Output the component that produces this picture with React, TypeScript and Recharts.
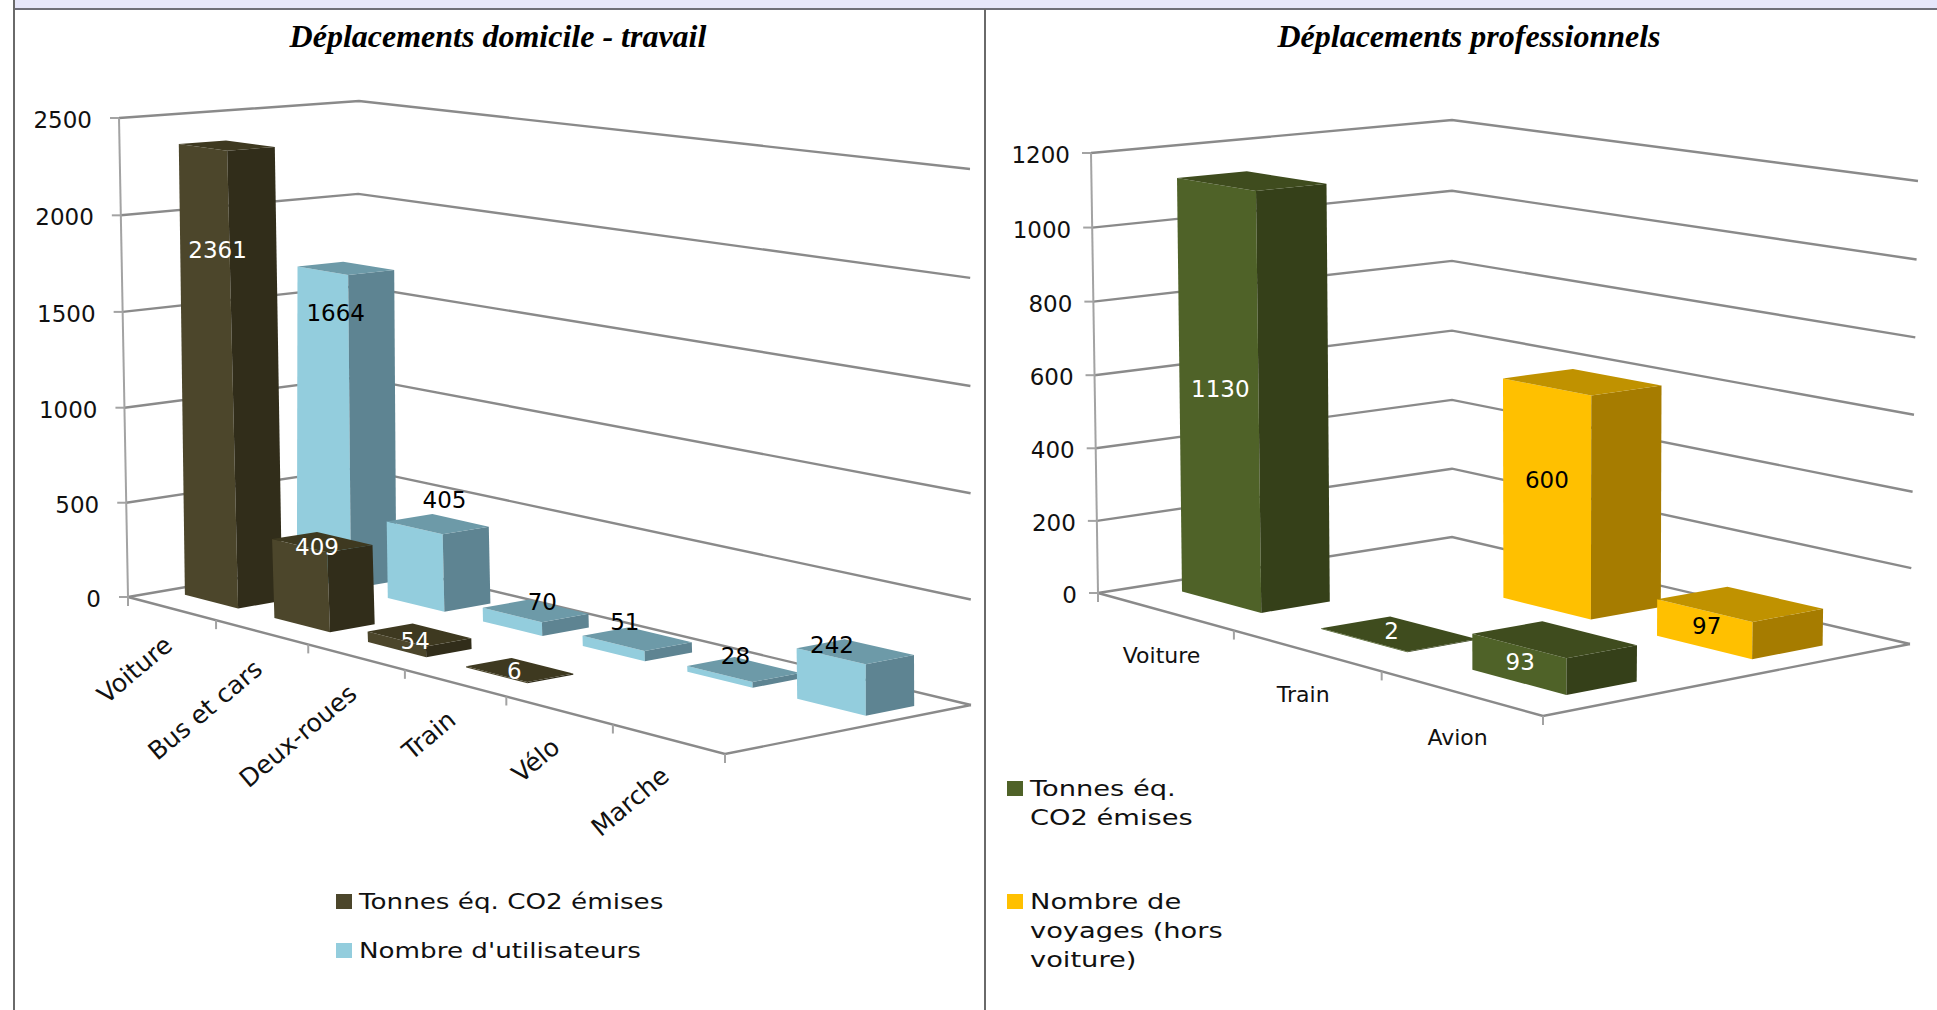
import React from 'react';
import { BarChart, Bar, XAxis, YAxis, CartesianGrid, Legend } from 'recharts';

const homeCategories = ['Voiture', 'Bus et cars', 'Deux-roues', 'Train', 'Vélo', 'Marche'];
const homeTonnes = [2361, 409, 54, 6, null, null];
const homeUsers = [1664, 405, 70, 51, 28, 242];
const homeTicks = [0, 500, 1000, 1500, 2000, 2500];

const tripCategories = ['Voiture', 'Train', 'Avion'];
const tripTonnes = [1130, 2, 93];
const tripVoyages = [null, 600, 97];
const tripTicks = [0, 200, 400, 600, 800, 1000, 1200];

const LABEL_FONT = '"DejaVu Sans", sans-serif';
const GRID_COLOR = '#8a8a8a';
const AXIS_COLOR = '#a3a3a3';
const MARGIN = 40;
const CHART_HEIGHT = 1010;

type Pt = [number, number];
type Quad = [Pt, Pt, Pt, Pt]; // front-left, front-right, back-right, back-left

// unit square -> quad, Heckbert's closed form
const quadMap = ([p0, p1, p2, p3]: Quad) => {
  const dx1 = p1[0] - p2[0];
  const dx2 = p3[0] - p2[0];
  const dy1 = p1[1] - p2[1];
  const dy2 = p3[1] - p2[1];
  const sx = p0[0] - p1[0] + p2[0] - p3[0];
  const sy = p0[1] - p1[1] + p2[1] - p3[1];
  const den = dx1 * dy2 - dx2 * dy1;
  const g = (sx * dy2 - dx2 * sy) / den;
  const h = (dx1 * sy - sx * dy1) / den;
  const a = p1[0] - p0[0] + g * p1[0];
  const b = p3[0] - p0[0] + h * p3[0];
  const d = p1[1] - p0[1] + g * p1[1];
  const e = p3[1] - p0[1] + h * p3[1];
  return (u: number, v: number): Pt => {
    const q = g * u + h * v + 1;
    return [(a * u + b * v + p0[0]) / q, (d * u + e * v + p0[1]) / q];
  };
};

// floor and ceiling of the box, heights eased a little because upper steps look larger
const makeProjection = (floor: Quad, ceiling: Quad, originX: number) => {
  const f = quadMap(floor);
  const c = quadMap(ceiling);
  return (u: number, v: number, w: number): Pt => {
    const a = f(u, v);
    const b = c(u, v);
    const t = w + 0.02 * w * (w - 1);
    return [a[0] + (b[0] - a[0]) * t - originX, a[1] + (b[1] - a[1]) * t];
  };
};

const pts = (list: Pt[]) => list.map((p) => `${p[0].toFixed(1)},${p[1].toFixed(1)}`).join(' ');

interface Series {
  dataKey: string;
  name: string;
  values: (number | null)[];
  fill: string;
  top: string;
  side: string;
  textFill: string;
  depth: [number, number];
  nudge: Pt[];
}

interface Chart3DProps {
  left: number;
  width: number;
  categories: string[];
  yTicks: number[];
  yMax: number;
  floor: Quad;
  ceiling: Quad;
  back: Series;
  front: Series;
  barShare: number;
  tickAngle: number;
  tickOffset: Pt;
  tickFont: number;
  yLabelGap: number;
  legendStyle: React.CSSProperties;
  legendGap: number;
  legendStretch: number;
  legendTextWidth: number;
}

const Chart3D = (props: Chart3DProps) => {
  const { left, width, categories, yTicks, yMax, floor, ceiling, back, front } = props;
  const plotW = width - MARGIN * 2;
  const plotH = CHART_HEIGHT - MARGIN * 2;
  const bottom = MARGIN + plotH;
  const project = makeProjection(floor, ceiling, left);
  const rows = categories.map((category, i) => ({
    category,
    [back.dataKey]: back.values[i],
    [front.dataKey]: front.values[i],
  }));
  const barSize = (plotW / categories.length) * props.barShare;

  const gridLine = (line: any) => {
    const w = (bottom - line.y1) / plotH;
    return (
      <polyline
        key={`grid-${line.y1}`}
        points={pts([project(0, 0, w), project(0, 1, w), project(1, 1, w)])}
        fill="none"
        stroke={GRID_COLOR}
        strokeWidth={2.4}
      />
    );
  };

  const yTick = ({ y, payload }: any) => {
    const w = (bottom - y) / plotH;
    const p = project(0, 0, w);
    return (
      <g>
        {payload.value === 0 && (
          <polyline points={pts([project(0, 0, 0), project(0, 0, 1)])} fill="none" stroke={AXIS_COLOR} strokeWidth={2} />
        )}
        <line x1={p[0] - 9} y1={p[1]} x2={p[0]} y2={p[1]} stroke={AXIS_COLOR} strokeWidth={2} />
        <text
          x={p[0] - props.yLabelGap}
          y={p[1] + 2}
          textAnchor="end"
          dominantBaseline="central"
          fontFamily={LABEL_FONT}
          fontSize={23}
          fill="#111"
        >
          {payload.value}
        </text>
      </g>
    );
  };

  const xTick = ({ x, payload, index }: any) => {
    const n = categories.length;
    const center = project((x - MARGIN) / plotW, 0, 0);
    const edge = project((index + 1) / n, 0, 0);
    const lx = center[0] + props.tickOffset[0];
    const ly = center[1] + props.tickOffset[1];
    const start = project(0, 0, 0);
    return (
      <g>
        {index === 0 && (
          <>
            <polyline
              points={pts([start, project(1, 0, 0), project(1, 1, 0)])}
              fill="none"
              stroke={GRID_COLOR}
              strokeWidth={2.4}
            />
            <line x1={start[0]} y1={start[1]} x2={start[0]} y2={start[1] + 9} stroke={AXIS_COLOR} strokeWidth={2} />
          </>
        )}
        <line x1={edge[0]} y1={edge[1]} x2={edge[0]} y2={edge[1] + 9} stroke={AXIS_COLOR} strokeWidth={2} />
        <text
          x={lx}
          y={ly}
          textAnchor={props.tickAngle ? 'end' : 'middle'}
          dominantBaseline="central"
          transform={props.tickAngle ? `rotate(${props.tickAngle} ${lx} ${ly})` : undefined}
          fontFamily={LABEL_FONT}
          fontSize={props.tickFont}
          fill="#111"
        >
          {payload.value}
        </text>
      </g>
    );
  };

  // each bar is a box: the library gives x, y and width, depth comes from the series row
  const boxShape = (series: Series) => (bar: any) => {
    const value = bar.payload[series.dataKey];
    if (value === null || value === undefined) return <g />;
    const u0 = (bar.x - MARGIN) / plotW;
    const u1 = (bar.x + bar.width - MARGIN) / plotW;
    const w = (bottom - bar.y) / plotH;
    const [v0, v1] = series.depth;
    const mid = project((u0 + u1) / 2, (v0 + v1) / 2, w);
    // null rows are left out of the bar list, so look the category up instead of using bar.index
    const nudge = series.nudge[categories.indexOf(bar.payload.category)];
    return (
      <g>
        <polygon points={pts([project(u0, v0, 0), project(u1, v0, 0), project(u1, v0, w), project(u0, v0, w)])} fill={series.fill} />
        <polygon points={pts([project(u1, v0, 0), project(u1, v1, 0), project(u1, v1, w), project(u1, v0, w)])} fill={series.side} />
        <polygon points={pts([project(u0, v0, w), project(u1, v0, w), project(u1, v1, w), project(u0, v1, w)])} fill={series.top} />
        <text
          x={mid[0] + nudge[0]}
          y={mid[1] + nudge[1]}
          textAnchor="middle"
          dominantBaseline="central"
          fontFamily={LABEL_FONT}
          fontSize={23}
          fill={series.textFill}
        >
          {value}
        </text>
      </g>
    );
  };

  const legendContent = ({ payload }: any) => (
    <div style={{ fontFamily: LABEL_FONT, fontSize: 22, lineHeight: '29px', color: '#111' }}>
      {[...(payload ?? [])]
        .sort((a: any) => (a.dataKey === front.dataKey ? -1 : 1))
        .map((item: any) => (
          <div key={item.dataKey} style={{ display: 'flex', marginBottom: props.legendGap }}>
            <span style={{ width: 16, height: 15, marginTop: 7, marginRight: 7, flex: 'none', background: item.color }} />
            <span
              style={{
                width: props.legendTextWidth,
                flex: 'none',
                transform: `scaleX(${props.legendStretch})`,
                transformOrigin: 'left top',
              }}
            >
              {item.value}
            </span>
          </div>
        ))}
    </div>
  );

  return (
    <div style={{ position: 'absolute', left, top: 0 }}>
      <BarChart
        width={width}
        height={CHART_HEIGHT}
        data={rows}
        margin={{ top: MARGIN, right: MARGIN, bottom: MARGIN - 1, left: MARGIN - 1 }}
        barSize={barSize}
        barGap={-barSize}
      >
        <CartesianGrid vertical={false} horizontal={gridLine} />
        <XAxis dataKey="category" height={1} axisLine={false} tickLine={false} interval={0} tick={xTick} />
        <YAxis width={1} domain={[0, yMax]} ticks={yTicks} axisLine={false} tickLine={false} interval={0} tick={yTick} />
        <Legend layout="vertical" align="center" verticalAlign="middle" wrapperStyle={props.legendStyle} content={legendContent} />
        {[back, front].map((series) => (
          <Bar
            key={series.dataKey}
            dataKey={series.dataKey}
            name={series.name}
            fill={series.fill}
            shape={boxShape(series)}
            isAnimationActive={false}
          />
        ))}
      </BarChart>
    </div>
  );
};

const titleStyle = (center: number): React.CSSProperties => ({
  position: 'absolute',
  left: center - 300,
  width: 600,
  top: 18,
  textAlign: 'center',
  fontFamily: '"Liberation Serif", serif',
  fontStyle: 'italic',
  fontWeight: 'bold',
  fontSize: 32,
  lineHeight: '36px',
  color: '#000',
});

export default function App() {
  return (
    <div style={{ position: 'absolute', left: 0, top: 0, width: 1937, height: 1010, background: '#fff', overflow: 'hidden' }}>
      <div style={{ position: 'absolute', left: 14, top: 0, width: 1923, height: 8, background: '#e6e6fa' }} />
      <div style={{ position: 'absolute', left: 13, top: 8, width: 1924, height: 2, background: '#6e6e78' }} />
      <div style={{ position: 'absolute', left: 13, top: 0, width: 2, height: 1010, background: '#6a6a6a' }} />
      <div style={{ position: 'absolute', left: 984, top: 9, width: 2, height: 1001, background: '#6a6a6a' }} />

      <Chart3D
        left={15}
        width={969}
        categories={homeCategories}
        yTicks={homeTicks}
        yMax={2500}
        floor={[[128, 597], [725, 754], [971, 705], [355, 558]]}
        ceiling={[[119, 118], [723, 199], [970, 169], [359, 101]]}
        back={{
          dataKey: 'users',
          name: "Nombre d'utilisateurs",
          values: homeUsers,
          fill: '#93cddd',
          top: '#6d9aa8',
          side: '#5e8492',
          textFill: '#000',
          depth: [0.66, 0.86],
          nudge: [[-10, 45], [7, -24], [7, -9], [-12, -17], [-8, -13], [-23, -7]],
        }}
        front={{
          dataKey: 'tonnes',
          name: 'Tonnes éq. CO2 émises',
          values: homeTonnes,
          fill: '#4c462b',
          top: '#3e3920',
          side: '#312d1a',
          textFill: '#fff',
          depth: [0.17, 0.36],
          nudge: [[-9, 105], [-5, 5], [-4, 6], [-5, 1], [0, 0], [0, 0]],
        }}
        barShare={0.6}
        tickAngle={-40}
        tickOffset={[-3, 33]}
        tickFont={25}
        yLabelGap={27}
        legendStyle={{ left: 321, top: 887, width: 560 }}
        legendGap={20}
        legendStretch={1.19}
        legendTextWidth={400}
      />

      <Chart3D
        left={986}
        width={951}
        categories={tripCategories}
        yTicks={tripTicks}
        yMax={1200}
        floor={[[1098, 593], [1543, 716], [1910, 644], [1452, 537]]}
        ceiling={[[1091, 153], [1543, 226], [1918, 181], [1452, 120]]}
        back={{
          dataKey: 'voyages',
          name: 'Nombre de voyages (hors voiture)',
          values: tripVoyages,
          fill: '#ffc000',
          top: '#c09200',
          side: '#a67c00',
          textFill: '#000',
          depth: [0.65, 0.85],
          nudge: [[0, 0], [-35, 98], [-33, 22]],
        }}
        front={{
          dataKey: 'tonnes',
          name: 'Tonnes éq. CO2 émises',
          values: tripTonnes,
          fill: '#4f6228',
          top: '#3f4c1e',
          side: '#354019',
          textFill: '#fff',
          depth: [0.15, 0.335],
          nudge: [[-31, 208], [-7, -3], [-34, 23]],
        }}
        barShare={0.58}
        tickAngle={0}
        tickOffset={[-3, 44]}
        tickFont={22}
        yLabelGap={21}
        legendStyle={{ left: 21, top: 774, width: 240 }}
        legendGap={55}
        legendStretch={1.24}
        legendTextWidth={160}
      />

      <div style={titleStyle(498)}>Déplacements domicile - travail</div>
      <div style={titleStyle(1469)}>Déplacements professionnels</div>
    </div>
  );
}
